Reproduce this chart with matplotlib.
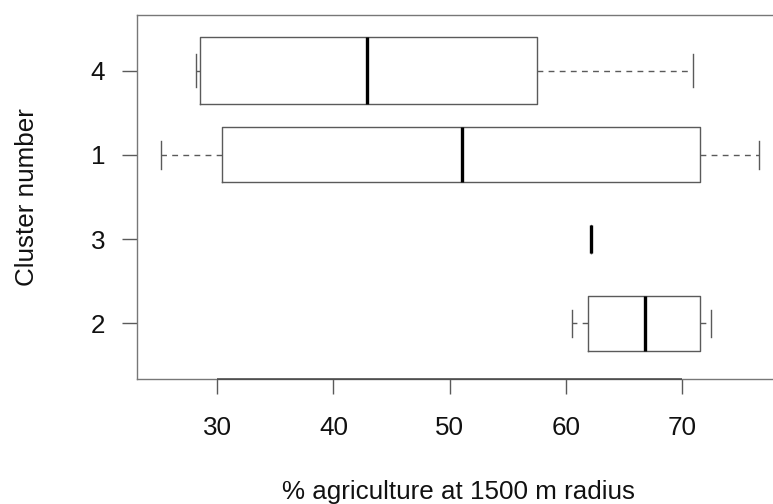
import numpy as np
import matplotlib
matplotlib.use("Agg")
import matplotlib.pyplot as plt

plt.rcParams['font.family'] = ['Liberation Sans', 'DejaVu Sans']
plt.rcParams['lines.scale_dashes'] = False

# Data (bottom to top)
clusters = ["2", "3", "1", "4"]
whisker_lo = [60.54, 62.13, 25.15, 28.16]
q1 = [61.92, 62.13, 30.41, 28.53]
median = [66.81, 62.13, 51.06, 42.91]
q3 = [71.55, 62.13, 71.55, 57.53]
whisker_hi = [72.50, 62.13, 76.64, 70.98]
counts = [4, 1, 4, 6]
xticks = [30, 40, 50, 60, 70]

W, H = 773, 504
fig = plt.figure(figsize=(W / 100, H / 100), dpi=100)
left_px, right_px, top_px, bot_px = 137, 783, 15, 379
ax = fig.add_axes([left_px / W, 1 - bot_px / H, (right_px - left_px) / W, (bot_px - top_px) / H])

stats = []
for i, c in enumerate(clusters):
    stats.append(dict(label=c, whislo=whisker_lo[i], q1=q1[i], med=median[i],
                      q3=q3[i], whishi=whisker_hi[i], fliers=[]))

n = np.array(counts, dtype=float)
widths = 0.8 * np.sqrt(n / n.max())
positions = np.arange(1, len(clusters) + 1)

line_col = '#5a5a5a'
ax.bxp(stats, positions=positions, widths=widths, capwidths=0.5 * widths,
       orientation='horizontal', showfliers=False,
       boxprops=dict(color=line_col, linewidth=1.0),
       whiskerprops=dict(color=line_col, linewidth=1.0, linestyle=(0, (4.2, 3.8))),
       capprops=dict(color=line_col, linewidth=1.0),
       medianprops=dict(color='black', linewidth=2.4, solid_capstyle='butt'))

lo, hi = min(whisker_lo), max(whisker_hi)
pad = 0.04 * (hi - lo)
ax.set_xlim(lo - pad, hi + pad)
ny = len(clusters)
ax.set_ylim(0.5 - 0.04 * ny, ny + 0.5 + 0.04 * ny)

ax.set_xticks(xticks)
ax.set_xticklabels([str(t) for t in xticks])
ax.set_yticks(positions)
ax.set_yticklabels(clusters)

ax.tick_params(axis='both', direction='out', length=10.8, width=1.0,
               color=line_col, labelsize=18.7, labelcolor='#111111')
ax.tick_params(axis='x', pad=16.0)
ax.tick_params(axis='y', pad=12.0)
for s in ax.spines.values():
    s.set_color('#777777')
    s.set_linewidth(1.0)

ax.hlines(ax.get_ylim()[0], xticks[0], xticks[-1], color='#444444', linewidth=1.1, clip_on=False, zorder=5)

fig.text(459 / W, 4.5 / H, '% agriculture at 1500 m radius', ha='center', va='baseline',
         fontsize=18.7, color='#111111')
fig.text(27 / W, 1 - 197 / H, 'Cluster number', ha='center', va='center', rotation=90,
         fontsize=18.7, color='#111111')

fig.savefig('out.png', dpi=100)
